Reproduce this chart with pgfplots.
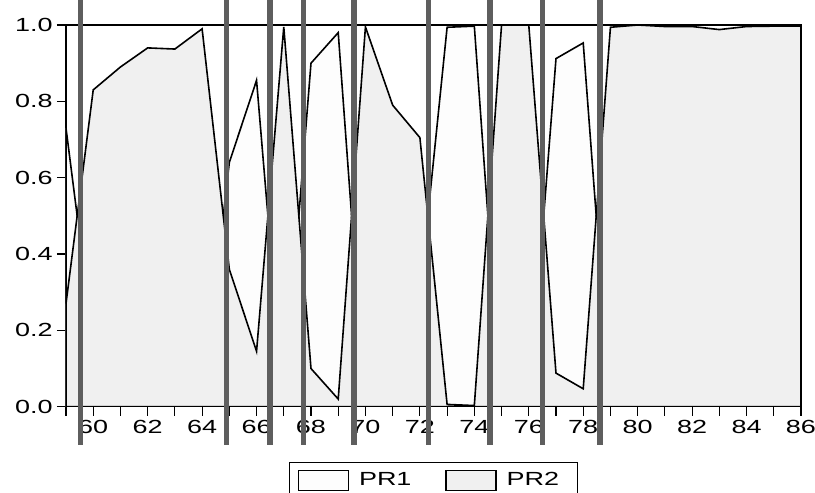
\documentclass[border=0pt]{standalone}
\usepackage{fontspec}
\setmainfont{Liberation Sans}
\usepackage{pgfplots}
\usepackage{pgfplotstable}
\pgfplotsset{compat=1.18}

\definecolor{prgray}{RGB}{240,240,240}
\definecolor{prwhite}{RGB}{253,253,253}
\definecolor{barcol}{RGB}{94,94,94}

% regime probabilities, annual
\pgfplotstableread{
year pr1   pr2
59   0.73  0.27
60   0.17  0.83
61   0.11  0.89
62   0.06  0.94
63   0.063 0.937
64   0.01  0.99
65   0.64  0.36
66   0.855 0.145
67   0.005 0.995
68   0.90  0.10
69   0.98  0.02
70   0.005 0.995
71   0.21  0.79
72   0.295 0.705
73   0.994 0.006
74   0.997 0.003
75   0.0   1.0
76   0.0   1.0
77   0.912 0.088
78   0.953 0.047
79   0.006 0.994
80   0.0   1.0
81   0.004 0.996
82   0.004 0.996
83   0.012 0.988
84   0.004 0.996
85   0.003 0.997
86   0.003 0.997
}\prdata

\newcommand{\wide}[1]{\scalebox{1.42}[1]{#1}}

\begin{document}
\begin{tikzpicture}
\pgfplotsset{
  common/.style={
    scale only axis,
    width=367.5pt, height=190.85pt,
    xmin=59, xmax=86, ymin=0, ymax=1,
  }
}
\begin{axis}[
  common,
  font=\fontsize{9.5}{11}\selectfont,
  /pgf/number format/assume math mode=true,
  axis line style={line width=0.6pt},
  tick align=outside,
  xtick pos=bottom, ytick pos=left,
  xtick={60,62,...,86},
  minor xtick={59,61,...,85},
  ytick={0,0.2,0.4,0.6,0.8,1.0},
  major tick length=4.5pt, minor tick length=4.5pt,
  tick style={line width=0.6pt, black},
  xticklabel={\wide{\pgfmathprintnumber[int detect]{\tick}}},
  yticklabel={\wide{\pgfmathprintnumber[fixed,fixed zerofill,precision=1]{\tick}}},
  xticklabel style={inner sep=1pt, yshift=-1pt},
  yticklabel style={inner sep=2pt},
  legend columns=2,
  legend style={at={(0.5,-0.145)}, anchor=north, draw=black, line width=0.6pt,
    inner xsep=4pt, inner ysep=3pt,
    nodes={inner xsep=5pt},
    /tikz/every even column/.append style={column sep=12pt}},
  legend image code/.code={\draw[#1, draw=black, line width=0.6pt] (0pt,-5pt) rectangle (25pt,5pt);},
]
\addplot[fill=prwhite, draw=black, line width=0.8pt] table[x=year, y=pr1]{\prdata} \closedcycle;
\addlegendentry{\wide{PR1}}
\addplot[fill=prgray, draw=black, line width=0.8pt] table[x=year, y=pr2]{\prdata} \closedcycle;
\addlegendentry{\wide{PR2}}
\end{axis}

% regime switch markers drawn over everything
\begin{axis}[common, hide axis, clip=false]
\pgfplotsinvokeforeach{59.53,64.89,66.49,67.72,69.57,72.31,74.58,76.50,78.61}{
  \addplot[barcol, line width=2.8pt] coordinates {(#1,-0.10) (#1,1.07)};
}
\end{axis}

\pgfresetboundingbox
\path[use as bounding box] (-33pt,-43.15pt) rectangle (374.5pt,203.35pt);
\end{tikzpicture}
\end{document}
